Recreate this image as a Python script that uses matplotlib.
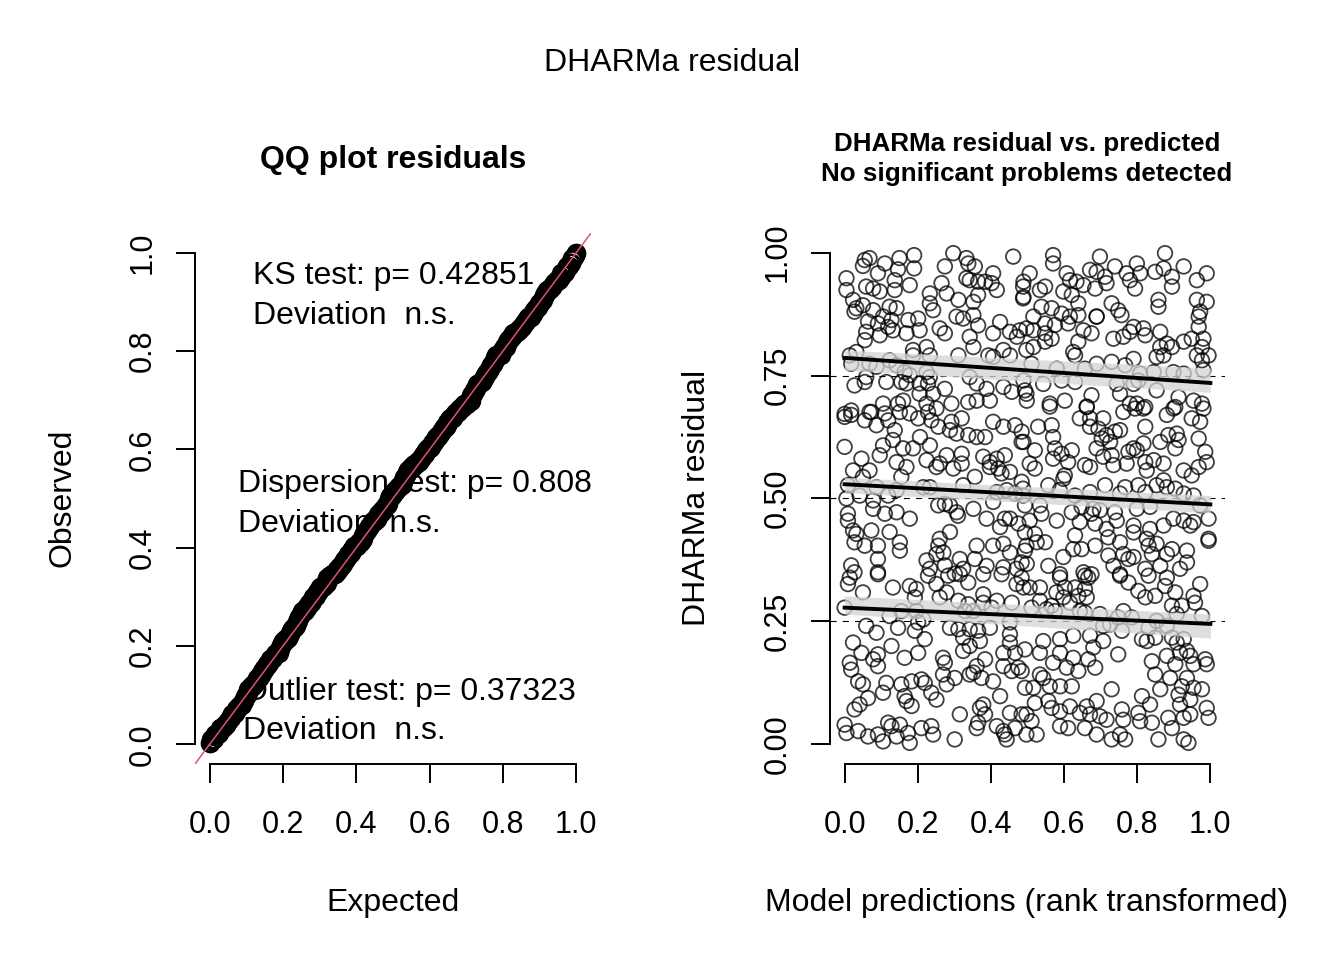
import numpy as np
import matplotlib
matplotlib.use("Agg")
import matplotlib.pyplot as plt

plt.rcParams['font.family'] = ['Liberation Sans', 'DejaVu Sans']

# residuals vs. rank-transformed predictions in six tiles
# (x = model prediction rank, y = scaled residual)
pts_top_left = [
    (0.055, 0.985), (0.068, 0.989), (0.05, 0.973), (0.11, 0.978), (0.15, 0.989), (0.19, 0.995),
    (0.146, 0.966), (0.19, 0.968), (0.091, 0.958), (0.005, 0.948), (0.005, 0.924), (0.059, 0.931),
    (0.078, 0.927), (0.096, 0.921), (0.137, 0.944), (0.137, 0.924), (0.178, 0.934), (0.023, 0.904),
    (0.032, 0.887), (0.027, 0.88), (0.05, 0.893), (0.078, 0.883), (0.123, 0.89), (0.142, 0.887),
    (0.105, 0.87), (0.128, 0.863), (0.064, 0.86), (0.091, 0.856), (0.119, 0.849), (0.132, 0.842),
    (0.174, 0.863), (0.201, 0.866), (0.059, 0.839), (0.055, 0.822), (0.096, 0.832), (0.169, 0.836),
    (0.205, 0.842), (0.233, 0.897), (0.233, 0.917), (0.242, 0.883), (0.265, 0.938), (0.279, 0.917),
    (0.311, 0.904), (0.274, 0.972), (0.297, 0.999), (0.333, 0.989), (0.338, 0.978), (0.356, 0.972),
    (0.333, 0.948), (0.342, 0.944), (0.365, 0.941), (0.384, 0.941), (0.406, 0.958), (0.402, 0.938),
    (0.416, 0.924), (0.365, 0.914), (0.352, 0.9), (0.306, 0.87), (0.324, 0.866), (0.352, 0.873),
    (0.365, 0.852), (0.26, 0.846), (0.274, 0.836), (0.342, 0.829), (0.352, 0.808), (0.406, 0.836),
    (0.425, 0.859), (0.452, 0.839), (0.471, 0.829), (0.479, 0.842), (0.461, 0.992), (0.489, 0.941),
    (0.489, 0.91), (0.187, 0.802), (0.187, 0.791), (0.224, 0.808), (0.233, 0.791), (0.311, 0.791),
    (0.393, 0.791), (0.406, 0.788), (0.434, 0.802), (0.452, 0.791), (0.014, 0.791), (0.032, 0.798),
    (0.018, 0.774), (0.068, 0.774), (0.087, 0.768), (0.123, 0.781), (0.142, 0.771), (0.164, 0.757),
    (0.178, 0.751), (0.224, 0.757), (0.233, 0.747), (0.059, 0.747), (0.027, 0.73), (0.055, 0.737),
    (0.114, 0.737), (0.155, 0.737), (0.169, 0.734), (0.205, 0.734), (0.228, 0.734), (0.274, 0.723),
    (0.242, 0.713), (0.205, 0.713), (0.16, 0.699), (0.105, 0.693), (0.146, 0.693), (0.224, 0.693),
    (0.251, 0.683), (0.292, 0.693), (0.338, 0.696), (0.361, 0.699), (0.397, 0.699), (0.361, 0.734),
    (0.388, 0.723), (0.342, 0.747), (0.434, 0.727), (0.457, 0.717), (0.489, 0.74), (0.493, 0.72),
    (0.498, 0.699), (0.0, 0.672), (0.018, 0.679), (0.068, 0.676),
]
pts_top_right = [
    (0.57, 0.995), (0.57, 0.978), (0.698, 0.992), (0.876, 0.999), (0.506, 0.958), (0.607, 0.958),
    (0.616, 0.944), (0.671, 0.965), (0.689, 0.961), (0.712, 0.951), (0.739, 0.972), (0.771, 0.958),
    (0.799, 0.978), (0.808, 0.958), (0.78, 0.944), (0.849, 0.961), (0.872, 0.968), (0.895, 0.951),
    (0.927, 0.972), (0.99, 0.958), (0.963, 0.944), (0.895, 0.931), (0.794, 0.927), (0.716, 0.938),
    (0.685, 0.927), (0.653, 0.934), (0.634, 0.941), (0.548, 0.931), (0.534, 0.924), (0.598, 0.921),
    (0.621, 0.914), (0.488, 0.931), (0.488, 0.907), (0.858, 0.904), (0.858, 0.89), (0.963, 0.904),
    (0.99, 0.9), (0.538, 0.89), (0.566, 0.887), (0.639, 0.897), (0.73, 0.897), (0.748, 0.883),
    (0.689, 0.87), (0.689, 0.87), (0.516, 0.87), (0.593, 0.876), (0.616, 0.87), (0.639, 0.873),
    (0.757, 0.873), (0.972, 0.88), (0.968, 0.87), (0.548, 0.856), (0.575, 0.853), (0.611, 0.856),
    (0.497, 0.846), (0.516, 0.842), (0.548, 0.836), (0.653, 0.842), (0.675, 0.836), (0.79, 0.849),
    (0.78, 0.839), (0.817, 0.846), (0.822, 0.832), (0.863, 0.839), (0.968, 0.849), (0.735, 0.825),
    (0.762, 0.829), (0.548, 0.819), (0.566, 0.825), (0.516, 0.808), (0.497, 0.802), (0.639, 0.819),
    (0.625, 0.798), (0.63, 0.791), (0.689, 0.774), (0.73, 0.778), (0.79, 0.784), (0.767, 0.771),
    (0.863, 0.808), (0.881, 0.815), (0.895, 0.808), (0.927, 0.819), (0.949, 0.825), (0.981, 0.825),
    (0.977, 0.808), (0.963, 0.791), (0.977, 0.781), (0.995, 0.791), (0.853, 0.788), (0.872, 0.791),
    (0.657, 0.764), (0.58, 0.764), (0.511, 0.774), (0.808, 0.754), (0.845, 0.757), (0.899, 0.757),
    (0.927, 0.754), (0.981, 0.761), (0.543, 0.733), (0.593, 0.74), (0.63, 0.737), (0.744, 0.733),
    (0.79, 0.733), (0.803, 0.74), (0.853, 0.72), (0.497, 0.713), (0.561, 0.693), (0.602, 0.699),
    (0.675, 0.71), (0.662, 0.686), (0.753, 0.713), (0.78, 0.693), (0.799, 0.693), (0.822, 0.686),
    (0.913, 0.706), (0.904, 0.686), (0.954, 0.699), (0.977, 0.693),
]
pts_mid_left = [
    (0.0, 0.666), (0.018, 0.67), (0.055, 0.659), (0.073, 0.676), (0.087, 0.649), (0.11, 0.673),
    (0.119, 0.659), (0.151, 0.676), (0.178, 0.673), (0.201, 0.663), (0.228, 0.676), (0.237, 0.659),
    (0.256, 0.646), (0.292, 0.656), (0.32, 0.663), (0.288, 0.639), (0.306, 0.632), (0.338, 0.629),
    (0.361, 0.625), (0.384, 0.625), (0.406, 0.656), (0.434, 0.646), (0.466, 0.649), (0.484, 0.636),
    (0.489, 0.615), (0.0, 0.605), (0.137, 0.639), (0.132, 0.619), (0.16, 0.602), (0.105, 0.608),
    (0.206, 0.625), (0.233, 0.608), (0.187, 0.602), (0.279, 0.588), (0.32, 0.591), (0.26, 0.571),
    (0.297, 0.561), (0.32, 0.571), (0.046, 0.581), (0.096, 0.588), (0.142, 0.574), (0.169, 0.564),
    (0.224, 0.578), (0.251, 0.564), (0.023, 0.557), (0.068, 0.557), (0.05, 0.544), (0.155, 0.544),
    (0.356, 0.544), (0.379, 0.585), (0.397, 0.574), (0.416, 0.581), (0.438, 0.588), (0.42, 0.561),
    (0.429, 0.551), (0.452, 0.554), (0.397, 0.564), (0.484, 0.534), (0.009, 0.527), (0.087, 0.523),
    (0.142, 0.517), (0.215, 0.523), (0.233, 0.523), (0.324, 0.527), (0.416, 0.513), (0.443, 0.517),
    (0.466, 0.51), (0.005, 0.5), (0.041, 0.506), (0.078, 0.496), (0.119, 0.506), (0.078, 0.479),
    (0.11, 0.469), (0.142, 0.472), (0.178, 0.459), (0.256, 0.486), (0.274, 0.489), (0.288, 0.486),
    (0.306, 0.472), (0.31, 0.465), (0.352, 0.479), (0.406, 0.493), (0.388, 0.459), (0.425, 0.442),
    (0.438, 0.459), (0.452, 0.459), (0.475, 0.449), (0.009, 0.469), (0.009, 0.455), (0.023, 0.435),
    (0.032, 0.428), (0.073, 0.435), (0.123, 0.432), (0.027, 0.411), (0.055, 0.404), (0.091, 0.404),
    (0.151, 0.411), (0.151, 0.394), (0.091, 0.377), (0.091, 0.35), (0.288, 0.432), (0.26, 0.418),
    (0.256, 0.404), (0.251, 0.387), (0.27, 0.39), (0.224, 0.374), (0.233, 0.357), (0.274, 0.364),
    (0.315, 0.377), (0.324, 0.357), (0.361, 0.404), (0.406, 0.404), (0.434, 0.408), (0.452, 0.39),
    (0.493, 0.394), (0.356, 0.377), (0.388, 0.363), (0.434, 0.36), (0.47, 0.357), (0.498, 0.367),
    (0.018, 0.364), (0.027, 0.35), (0.301, 0.347),
]
pts_mid_right = [
    (0.561, 0.687), (0.662, 0.687), (0.762, 0.676), (0.794, 0.683), (0.817, 0.683), (0.881, 0.67),
    (0.899, 0.683), (0.981, 0.683), (0.949, 0.663), (0.972, 0.656), (0.643, 0.663), (0.671, 0.663),
    (0.707, 0.663), (0.529, 0.646), (0.566, 0.649), (0.671, 0.646), (0.694, 0.642), (0.716, 0.629),
    (0.739, 0.636), (0.753, 0.639), (0.703, 0.622), (0.726, 0.615), (0.822, 0.646), (0.885, 0.629),
    (0.908, 0.632), (0.913, 0.619), (0.863, 0.615), (0.817, 0.612), (0.79, 0.602), (0.799, 0.598),
    (0.776, 0.595), (0.968, 0.622), (0.986, 0.595), (0.99, 0.574), (0.904, 0.602), (0.57, 0.625),
    (0.52, 0.598), (0.575, 0.602), (0.593, 0.591), (0.621, 0.598), (0.57, 0.581), (0.611, 0.574),
    (0.506, 0.571), (0.52, 0.561), (0.484, 0.615), (0.657, 0.568), (0.671, 0.564), (0.689, 0.602),
    (0.707, 0.585), (0.73, 0.588), (0.735, 0.568), (0.771, 0.571), (0.822, 0.574), (0.845, 0.578),
    (0.826, 0.557), (0.872, 0.571), (0.927, 0.557), (0.949, 0.547), (0.968, 0.564), (0.602, 0.547),
    (0.598, 0.54), (0.557, 0.527), (0.588, 0.517), (0.488, 0.52), (0.488, 0.506), (0.63, 0.506),
    (0.671, 0.513), (0.712, 0.527), (0.753, 0.51), (0.767, 0.523), (0.803, 0.527), (0.822, 0.513),
    (0.853, 0.527), (0.872, 0.537), (0.881, 0.523), (0.904, 0.52), (0.927, 0.51), (0.954, 0.506),
    (0.972, 0.486), (0.995, 0.459), (0.995, 0.418), (0.493, 0.486), (0.534, 0.486), (0.538, 0.469),
    (0.506, 0.455), (0.58, 0.455), (0.621, 0.472), (0.648, 0.483), (0.68, 0.479), (0.675, 0.469),
    (0.698, 0.476), (0.739, 0.472), (0.744, 0.455), (0.799, 0.479), (0.835, 0.483), (0.643, 0.452),
    (0.685, 0.449), (0.716, 0.438), (0.79, 0.445), (0.79, 0.431), (0.835, 0.438), (0.872, 0.445),
    (0.899, 0.459), (0.927, 0.455), (0.945, 0.445), (0.954, 0.452), (0.493, 0.431), (0.52, 0.428),
    (0.497, 0.404), (0.525, 0.411), (0.548, 0.411), (0.63, 0.425), (0.625, 0.397), (0.648, 0.397),
    (0.685, 0.404), (0.721, 0.421), (0.753, 0.411), (0.826, 0.418), (0.831, 0.404), (0.853, 0.408),
    (0.895, 0.397), (0.936, 0.394), (0.995, 0.414), (0.598, 0.381), (0.721, 0.384), (0.762, 0.387),
    (0.776, 0.377), (0.79, 0.381), (0.84, 0.387), (0.881, 0.387), (0.936, 0.37), (0.557, 0.363),
    (0.589, 0.346), (0.653, 0.35), (0.675, 0.346), (0.735, 0.363), (0.753, 0.346), (0.822, 0.357),
    (0.863, 0.363), (0.917, 0.357), (0.484, 0.37),
]
pts_low_left = [
    (0.014, 0.339), (0.009, 0.326), (0.091, 0.346), (0.228, 0.343), (0.283, 0.343), (0.315, 0.346),
    (0.338, 0.329), (0.379, 0.346), (0.429, 0.346), (0.484, 0.339), (0.489, 0.319), (0.47, 0.326),
    (0.251, 0.326), (0.132, 0.319), (0.178, 0.322), (0.196, 0.316), (0.05, 0.309), (0.192, 0.299),
    (0.26, 0.299), (0.279, 0.309), (0.311, 0.292), (0.338, 0.285), (0.379, 0.305), (0.379, 0.288),
    (0.416, 0.292), (0.457, 0.288), (0.0, 0.278), (0.123, 0.261), (0.155, 0.271), (0.196, 0.271),
    (0.215, 0.254), (0.201, 0.248), (0.329, 0.271), (0.352, 0.271), (0.402, 0.278), (0.452, 0.248),
    (0.059, 0.241), (0.087, 0.227), (0.146, 0.237), (0.192, 0.231), (0.219, 0.214), (0.288, 0.237),
    (0.311, 0.234), (0.342, 0.234), (0.365, 0.231), (0.397, 0.237), (0.452, 0.224), (0.324, 0.217),
    (0.37, 0.21), (0.342, 0.2), (0.324, 0.19), (0.452, 0.207), (0.023, 0.207), (0.046, 0.186),
    (0.128, 0.2), (0.091, 0.183), (0.078, 0.173), (0.091, 0.159), (0.164, 0.176), (0.201, 0.186),
    (0.434, 0.186), (0.466, 0.186), (0.384, 0.173), (0.014, 0.166), (0.018, 0.152), (0.269, 0.176),
    (0.274, 0.166), (0.361, 0.159), (0.352, 0.146), (0.434, 0.159), (0.457, 0.149), (0.475, 0.156),
    (0.493, 0.115), (0.037, 0.128), (0.05, 0.122), (0.114, 0.125), (0.105, 0.105), (0.155, 0.122),
    (0.183, 0.128), (0.21, 0.132), (0.219, 0.125), (0.269, 0.142), (0.279, 0.122), (0.301, 0.135),
    (0.342, 0.142), (0.374, 0.135), (0.406, 0.128), (0.164, 0.098), (0.169, 0.088), (0.183, 0.078),
    (0.237, 0.105), (0.251, 0.091), (0.064, 0.094), (0.027, 0.071), (0.041, 0.081), (0.315, 0.061),
    (0.379, 0.081), (0.37, 0.074), (0.384, 0.061), (0.425, 0.098), (0.452, 0.064), (0.484, 0.061),
    (0.0, 0.04), (0.005, 0.023), (0.037, 0.027), (0.064, 0.016), (0.091, 0.02), (0.105, 0.006),
    (0.119, 0.044), (0.128, 0.037), (0.151, 0.04), (0.142, 0.016), (0.173, 0.023), (0.178, 0.003),
    (0.21, 0.033), (0.242, 0.02), (0.237, 0.037), (0.301, 0.01), (0.365, 0.044), (0.361, 0.033),
    (0.416, 0.037), (0.438, 0.02), (0.443, 0.01), (0.466, 0.033), (0.434, 0.027),
]
pts_low_right = [
    (0.589, 0.339), (0.657, 0.343), (0.666, 0.339), (0.753, 0.343), (0.831, 0.343), (0.881, 0.339),
    (0.776, 0.329), (0.506, 0.319), (0.534, 0.319), (0.579, 0.309), (0.602, 0.319), (0.63, 0.319),
    (0.657, 0.316), (0.662, 0.299), (0.639, 0.302), (0.598, 0.299), (0.534, 0.292), (0.566, 0.282),
    (0.616, 0.288), (0.511, 0.278), (0.552, 0.275), (0.575, 0.271), (0.643, 0.271), (0.657, 0.268),
    (0.698, 0.265), (0.803, 0.312), (0.822, 0.299), (0.849, 0.302), (0.876, 0.322), (0.904, 0.309),
    (0.954, 0.302), (0.972, 0.326), (0.958, 0.288), (0.922, 0.282), (0.895, 0.282), (0.908, 0.265),
    (0.977, 0.261), (0.762, 0.271), (0.748, 0.258), (0.785, 0.258), (0.707, 0.241), (0.726, 0.244),
    (0.758, 0.231), (0.853, 0.251), (0.831, 0.237), (0.849, 0.217), (0.826, 0.21), (0.813, 0.214),
    (0.881, 0.241), (0.895, 0.217), (0.927, 0.214), (0.908, 0.207), (0.936, 0.19), (0.917, 0.186),
    (0.881, 0.18), (0.945, 0.18), (0.986, 0.173), (0.99, 0.163), (0.84, 0.169), (0.904, 0.163),
    (0.954, 0.163), (0.493, 0.193), (0.543, 0.21), (0.589, 0.214), (0.625, 0.221), (0.671, 0.221),
    (0.68, 0.197), (0.707, 0.21), (0.748, 0.183), (0.534, 0.186), (0.589, 0.186), (0.625, 0.176),
    (0.666, 0.173), (0.685, 0.156), (0.57, 0.166), (0.607, 0.156), (0.639, 0.149), (0.484, 0.149),
    (0.534, 0.142), (0.543, 0.135), (0.849, 0.142), (0.89, 0.135), (0.936, 0.135), (0.922, 0.118),
    (0.954, 0.115), (0.977, 0.112), (0.863, 0.112), (0.516, 0.115), (0.561, 0.118), (0.589, 0.118),
    (0.621, 0.118), (0.73, 0.112), (0.813, 0.098), (0.835, 0.081), (0.913, 0.101), (0.945, 0.091),
    (0.917, 0.081), (0.99, 0.074), (0.995, 0.054), (0.52, 0.084), (0.557, 0.088), (0.566, 0.074),
    (0.589, 0.067), (0.616, 0.077), (0.643, 0.064), (0.662, 0.077), (0.689, 0.088), (0.671, 0.061),
    (0.698, 0.057), (0.716, 0.05), (0.758, 0.071), (0.762, 0.05), (0.803, 0.064), (0.808, 0.047),
    (0.84, 0.044), (0.885, 0.054), (0.895, 0.033), (0.927, 0.054), (0.945, 0.061), (0.497, 0.061),
    (0.511, 0.047), (0.497, 0.02), (0.525, 0.02), (0.589, 0.037), (0.611, 0.033), (0.657, 0.033),
    (0.689, 0.02), (0.73, 0.01), (0.753, 0.02), (0.767, 0.01), (0.858, 0.01), (0.927, 0.01),
    (0.94, 0.003),
]

# quantile regression lines (value at x=0 and x=1) with their bands
quant_x = [0.0, 1.0]
quant_levels = [0.25, 0.5, 0.75]
quant_fit = [[0.278, 0.245], [0.529, 0.488], [0.786, 0.735]]
quant_lo = [[0.265, 0.216], [0.512, 0.471], [0.761, 0.716]]
quant_hi = [[0.302, 0.265], [0.543, 0.506], [0.802, 0.765]]

# test results shown in the QQ panel
test_lines = [
    ("KS test: p= 0.42851", "Deviation  n.s."),
    ("Dispersion test: p= 0.808", "Deviation  n.s."),
    ("Outlier test: p= 0.37323", "Deviation  n.s."),
]
test_pos = [(0.117, 0.953, 0.872), (0.077, 0.529, 0.449), (0.09, 0.106, 0.027)]

qq_ticks = [0.0, 0.2, 0.4, 0.6, 0.8, 1.0]
qq_ticklabels = ["0.0", "0.2", "0.4", "0.6", "0.8", "1.0"]
res_yticks = [0.0, 0.25, 0.5, 0.75, 1.0]
res_yticklabels = ["0.00", "0.25", "0.50", "0.75", "1.00"]

all_pts = np.array(pts_top_left + pts_top_right + pts_mid_left
                   + pts_mid_right + pts_low_left + pts_low_right)
pred_rank = all_pts[:, 0]
residual = all_pts[:, 1]

W, H = 1344, 960
FS = 22
FS_TXT = 23
fig = plt.figure(figsize=(W / 100, H / 100), dpi=100)


def r_style(ax, xt, xtl, yt, ytl):
    ax.set_xlim(-0.04, 1.04)
    ax.set_ylim(-0.04, 1.04)
    for s in ("top", "right"):
        ax.spines[s].set_visible(False)
    ax.spines["left"].set_bounds(0, 1)
    ax.spines["bottom"].set_bounds(0, 1)
    ax.spines["left"].set_linewidth(1.4)
    ax.spines["bottom"].set_linewidth(1.4)
    ax.set_xticks(xt)
    ax.set_xticklabels(xtl)
    ax.set_yticks(yt)
    ax.set_yticklabels(ytl, rotation=90, va="center")
    ax.tick_params(length=13.5, width=1.4, labelsize=FS)
    ax.tick_params(axis="x", pad=19.5)
    ax.tick_params(axis="y", pad=13.5)
    ax.patch.set_visible(False)


# left panel: QQ plot
ax1 = fig.add_axes([195 / W, 1 - 764 / H, 396 / W, 531 / H])
r_style(ax1, qq_ticks, qq_ticklabels, qq_ticks, qq_ticklabels)
observed = np.sort(residual)
expected = (np.arange(len(observed)) + 0.5) / len(observed)
ax1.plot(expected, observed, 'o', ms=12.5, mfc='none', mec='black', mew=1.5, zorder=2)
ax1.axline((0, 0), slope=1, color='#DF536B', lw=1.1, zorder=3)
for (l1, l2), (tx, y1, y2) in zip(test_lines, test_pos):
    ax1.text(tx, y1, l1, fontsize=FS_TXT, ha='left', va='center', zorder=1)
    ax1.text(tx, y2, l2, fontsize=FS_TXT, ha='left', va='center', zorder=1)

# right panel: residual vs predicted
ax2 = fig.add_axes([830 / W, 1 - 764 / H, 395 / W, 531 / H])
r_style(ax2, qq_ticks, qq_ticklabels, res_yticks, res_yticklabels)
for q in quant_levels:
    ax2.axhline(q, color='black', lw=0.8, dashes=(5.5, 5.5), zorder=1)
ax2.scatter(pred_rank, residual, s=110, facecolors='none', edgecolors='black',
            linewidths=1.3, alpha=0.75, zorder=2)
for fit, lo, hi in zip(quant_fit, quant_lo, quant_hi):
    ax2.fill_between(quant_x, lo, hi, color='#d4d4d4', alpha=0.75, lw=0, zorder=3)
    ax2.plot(quant_x, fit, color='black', lw=2.8, zorder=4)


# titles and axis labels
def ftext(px, py, s, **kw):
    fig.text(px / W, 1 - py / H, s, ha='center', va='center', **kw)


ftext(672, 63, "DHARMa residual", fontsize=FS_TXT)
ftext(393, 160, "QQ plot residuals", fontsize=23, fontweight='bold')
ftext(1027, 144, "DHARMa residual vs. predicted", fontsize=18.7, fontweight='bold')
ftext(1027, 174, "No significant problems detected", fontsize=18.7, fontweight='bold')
ftext(393, 903, "Expected", fontsize=FS_TXT)
ftext(1027, 903, "Model predictions (rank transformed)", fontsize=FS_TXT)
ftext(62, 498, "Observed", fontsize=FS_TXT, rotation=90)
ftext(697, 498, "DHARMa residual", fontsize=FS_TXT, rotation=90)

fig.savefig("out.png", dpi=100)
